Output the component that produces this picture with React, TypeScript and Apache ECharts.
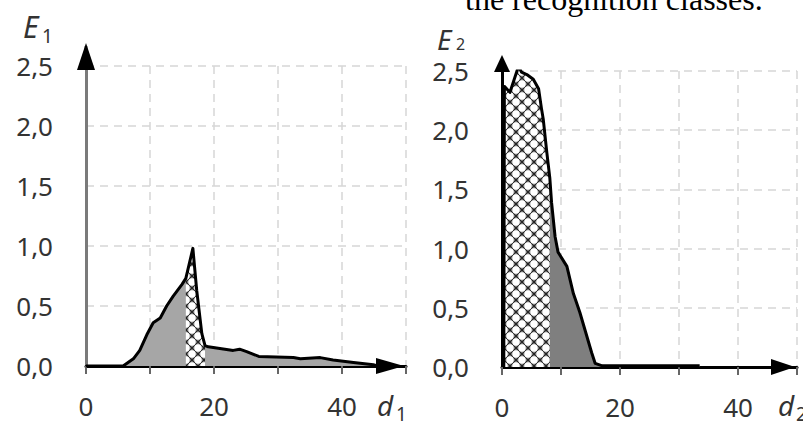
import React, { useEffect, useRef } from 'react';
import * as echarts from 'echarts';

// Left panel: E1 versus d1
const d1Values = [0, 5.8, 7.4, 8.4, 9.5, 10.5, 11.6, 12.6, 13.6, 15.0, 15.6, 16.7, 17.3, 18.1, 18.6, 19.1, 20.4, 23.0, 24.0, 25.1, 27.0, 32.4, 33.5, 36.6, 38.6, 41.8, 44.9, 45.5];
const e1Values = [0, 0, 0.06, 0.13, 0.26, 0.36, 0.40, 0.50, 0.58, 0.68, 0.73, 0.98, 0.63, 0.27, 0.17, 0.16, 0.15, 0.13, 0.14, 0.12, 0.08, 0.07, 0.06, 0.07, 0.05, 0.03, 0.01, 0];
const hatch1Range = [15.6, 18.6];

// Right panel: E2 versus d2
const d2Values = [0.3, 0.4, 1.35, 2.8, 3.3, 4.2, 5.3, 6.2, 6.7, 7.0, 7.6, 8.1, 8.4, 9.0, 9.5, 11.0, 12.1, 13.2, 15.2, 15.8, 17.0, 33.5];
const e2Values = [0, 2.37, 2.32, 2.54, 2.49, 2.47, 2.43, 2.35, 2.18, 2.09, 1.81, 1.6, 1.39, 1.1, 0.97, 0.85, 0.62, 0.46, 0.12, 0.03, 0.01, 0.01];
const hatch2Range = [0, 8.1];

const xTickLabels = [0, 20, 40];
const yMax = 2.5;

const FONT = 'Noto Sans';

export default function App() {
  const ref = useRef<HTMLDivElement>(null);

  useEffect(() => {
    document.body.style.margin = '0';
    const el = ref.current!;
    const chart = echarts.init(el, null, { renderer: 'svg' });

    // cross-hatch tile: white circles inside a dark diagonal lattice
    const T = 12;
    const tile = document.createElement('canvas');
    tile.width = T;
    tile.height = T;
    const ctx = tile.getContext('2d')!;
    ctx.fillStyle = '#8e8e8e';
    ctx.fillRect(0, 0, T, T);
    ctx.strokeStyle = '#1e1e1e';
    ctx.lineWidth = 1.1;
    ctx.beginPath();
    ctx.moveTo(0, 0);
    ctx.lineTo(T, T);
    ctx.moveTo(T, 0);
    ctx.lineTo(0, T);
    ctx.stroke();
    ctx.fillStyle = '#ffffff';
    [[T / 2, 0], [0, T / 2], [T, T / 2], [T / 2, T]].forEach(([cx, cy]) => {
      ctx.beginPath();
      ctx.arc(cx, cy, 3.7, 0, Math.PI * 2);
      ctx.fill();
    });
    const hatch: any = { image: tile, repeat: 'repeat', imageWidth: T, imageHeight: T };

    const pts1 = d1Values.map((d, i) => [d, e1Values[i]]);
    const pts2 = d2Values.map((d, i) => [d, e2Values[i]]);
    const sub1 = pts1.filter((p) => p[0] >= hatch1Range[0] && p[0] <= hatch1Range[1]);
    const sub2 = pts2.filter((p) => p[0] >= hatch2Range[0] && p[0] <= hatch2Range[1]);

    const split = { show: true, lineStyle: { color: '#d6d6d6', type: [8, 6] as any, width: 1.5 } };

    const makeX = (gridIndex: number, arrowLen: number) => ({
      type: 'value',
      gridIndex,
      min: 0,
      max: 50,
      interval: 10,
      axisLine: {
        show: true,
        onZero: false,
        lineStyle: { color: '#000', width: 3 },
        symbol: ['none', 'triangle'],
        symbolSize: [16, arrowLen],
        symbolOffset: [0, -arrowLen / 2 - 2],
      },
      axisTick: { show: true, length: 8, lineStyle: { color: '#666', width: 2 } },
      axisLabel: {
        formatter: (v: number) => (xTickLabels.indexOf(v) >= 0 ? String(v) : ''),
        fontSize: 26,
        lineHeight: 26,
        fontFamily: FONT,
        color: '#333',
        margin: 27,
      },
      splitLine: split,
    });

    const makeY = (gridIndex: number, color: string) => ({
      type: 'value',
      gridIndex,
      min: 0,
      max: yMax,
      interval: 0.5,
      axisLine: { show: true, onZero: false, lineStyle: { color, width: 3 } },
      axisTick: { show: false },
      axisLabel: {
        formatter: (v: number) => v.toFixed(1).replace('.', ','),
        fontSize: 26,
        lineHeight: 26,
        fontFamily: FONT,
        color: '#333',
        margin: 33,
      },
      splitLine: split,
    });

    const areaSeries = (idx: number, data: number[][], color: any, z: number) => ({
      type: 'line',
      xAxisIndex: idx,
      yAxisIndex: idx,
      data,
      symbol: 'none',
      lineStyle: { width: 0, opacity: 0 },
      areaStyle: { color, opacity: 1 },
      z,
    });
    const lineSeries = (idx: number, data: number[][]) => ({
      type: 'line',
      xAxisIndex: idx,
      yAxisIndex: idx,
      data,
      symbol: 'none',
      lineStyle: { color: '#000', width: 3, join: 'round' },
      z: 5,
    });

    chart.setOption({
      animation: false,
      grid: [
        { left: 86, top: 66, width: 320, height: 300 },
        { left: 502, top: 71, width: 295, height: 296 },
      ],
      xAxis: [makeX(0, 28), makeX(1, 24)],
      yAxis: [makeY(0, '#7a7a7a'), makeY(1, '#000')],
      series: [
        areaSeries(0, pts1, '#a6a6a6', 2),
        areaSeries(0, sub1, hatch, 3),
        lineSeries(0, pts1),
        areaSeries(1, pts2, '#7f7f7f', 2),
        areaSeries(1, sub2, hatch, 3),
        lineSeries(1, pts2),
      ],
    });

    const a = chart.convertToPixel({ gridIndex: 0 }, [0, yMax]) as number[];
    const b = chart.convertToPixel({ gridIndex: 1 }, [0, yMax]) as number[];

    const txt = (text: string, x: number, y: number, size: number, extra: any = {}) => ({
      type: 'text',
      z: 20,
      style: {
        text,
        x,
        y,
        fontSize: size,
        lineHeight: size,
        fontFamily: FONT,
        fill: '#333',
        textAlign: 'left',
        textVerticalAlign: 'middle',
        ...extra,
      },
    });

    chart.setOption({
      graphic: [
        { type: 'line', z: 10, shape: { x1: a[0], y1: a[1], x2: a[0], y2: a[1] - 20 }, style: { stroke: '#7a7a7a', lineWidth: 3 } },
        { type: 'polygon', z: 11, shape: { points: [[a[0], a[1] - 23], [a[0] - 9, a[1] + 4], [a[0] + 9, a[1] + 4]] }, style: { fill: '#000' } },
        { type: 'line', z: 10, shape: { x1: b[0], y1: b[1], x2: b[0], y2: b[1] - 12 }, style: { stroke: '#000', lineWidth: 3 } },
        { type: 'polygon', z: 11, shape: { points: [[b[0], b[1] - 16], [b[0] - 8, b[1] + 1], [b[0] + 8, b[1] + 1]] }, style: { fill: '#000' } },
        txt('E', 23, 26, 30, { fontStyle: 'italic' }),
        txt('1', 42, 36, 19),
        txt('E', 437, 39, 28, { fontStyle: 'italic' }),
        txt('2', 456, 44, 16),
        txt('d', 377, 405, 28, { fontStyle: 'italic' }),
        txt('1', 396, 414, 19),
        txt('d', 778, 405, 28, { fontStyle: 'italic' }),
        txt('2', 796, 414, 19),
        {
          type: 'text',
          z: 20,
          style: {
            text: 'the recognition classes.',
            x: 465,
            y: 15,
            fontSize: 32,
            fontFamily: 'Liberation Serif',
            fill: '#000',
            textAlign: 'left',
            textVerticalAlign: 'bottom',
          },
        },
      ],
    });

    return () => chart.dispose();
  }, []);

  return <div ref={ref} style={{ width: 803, height: 424 }} />;
}
